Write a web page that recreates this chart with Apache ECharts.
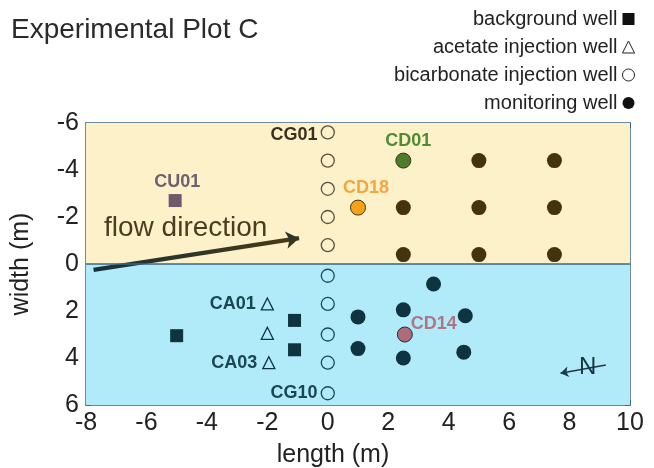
<!DOCTYPE html>
<html>
<head>
<meta charset="utf-8">
<script src="https://cdn.jsdelivr.net/npm/echarts@6/dist/echarts.min.js"></script>
<style>html,body{margin:0;padding:0;background:#fff;}#c{width:654px;height:468px;}</style>
</head>
<body>
<div id="c"></div>
<script>
// ---- data (length m, width m) ----
const backgroundWells = [[-5.05, -2.7], [-1.1, 2.4], [-1.1, 3.65], [-5.0, 3.05]];
const backgroundNames = ['CU01', '', '', ''];
const acetateWells = [[-2.0, 1.7], [-2.0, 2.95], [-1.95, 4.2]];
const acetateNames = ['CA01', '', 'CA03'];
const bicarbonateY = [-5.6, -4.4, -3.2, -2.0, -0.8, 0.5, 1.7, 3.0, 4.2, 5.5];
const bicarbonateX = [0, 0, 0, 0, 0, 0, 0, 0, 0, 0];
const bicarbonateNames = ['CG01', '', '', '', '', '', '', '', '', 'CG10'];
const monitoringWells = [
  [2.5, -4.4], [5.0, -4.4], [7.5, -4.4],
  [1.0, -2.4], [2.5, -2.4], [5.0, -2.4], [7.5, -2.4],
  [2.5, -0.4], [5.0, -0.4], [7.5, -0.4],
  [3.5, 0.85], [2.5, 1.95], [1.0, 2.25], [4.55, 2.2],
  [2.55, 3.0], [1.0, 3.6], [2.5, 4.0], [4.5, 3.75]
];
const monitoringNames = ['CD01', '', '', 'CD18', '', '', '', '', '', '', '', '', '', '', 'CD14', '', '', ''];
const flowArrow = [[-7.75, 0.25], [-0.95, -1.1]];
const flowTextAt = [-4.7, -1.5];
const northArrow = [[9.2, 4.3], [7.7, 4.65]];
const northTextAt = [8.6, 4.4];
const xRange = [-8, 10];
const yRange = [-6, 6];

// ---- styles ----
const FONT = 'Liberation Sans';
const TOP_BG = '#fdf1c9', BOT_BG = '#b1ebf9';
const TOP_DARK = '#45320f', BOT_DARK = '#0d3440';
const AXIS_C = '#3d6680';
const special = {
  CD01: {fill: '#4c7c2c', label: '#4f8a35', pos: 'top', offset: [5, 0]},
  CD18: {fill: '#f5a21a', label: '#f5a640', pos: 'top', offset: [8, 0]},
  CD14: {fill: '#b06a78', label: '#b07585', pos: 'right', offset: [-5, -10]},
  CU01: {fill: '#6f5a6c', label: '#6c6070', pos: 'top', offset: [2, 0]}
};
function darkFor(y) { return y < 0 ? TOP_DARK : BOT_DARK; }
function labelFor(name, y, fallbackPos, fallbackOffset) {
  if (!name) return {show: false};
  const s = special[name];
  return {
    show: true, formatter: name,
    position: s ? s.pos : fallbackPos,
    offset: s ? s.offset : (fallbackOffset || [0, 0]),
    distance: 3,
    color: s ? s.label : (y < 0 ? '#3a3020' : '#1a4654'),
    fontFamily: FONT, fontWeight: 'bold', fontSize: 18
  };
}

const bgData = backgroundWells.map((p, i) => ({
  value: p,
  itemStyle: {color: (special[backgroundNames[i]] || {}).fill || darkFor(p[1])},
  label: labelFor(backgroundNames[i], p[1], 'top')
}));
const acData = acetateWells.map((p, i) => ({
  value: p,
  itemStyle: {color: 'rgba(0,0,0,0)', borderColor: darkFor(p[1]), borderWidth: 1.3},
  label: labelFor(acetateNames[i], p[1], 'left', [-2, 0])
}));
const bcData = bicarbonateY.map((y, i) => ({
  value: [bicarbonateX[i], y],
  itemStyle: {color: 'rgba(0,0,0,0)', borderColor: y < 0 ? '#5a5040' : '#1a4a58', borderWidth: 1.3},
  label: labelFor(bicarbonateNames[i], y, 'left', [0, y < 0 ? 3 : 0])
}));
const mwData = monitoringWells.map((p, i) => {
  const s = special[monitoringNames[i]];
  return {
    value: p,
    itemStyle: {color: s ? s.fill : darkFor(p[1]), borderColor: darkFor(p[1]), borderWidth: s ? 1 : 0},
    label: labelFor(monitoringNames[i], p[1], 'top')
  };
});

const chart = echarts.init(document.getElementById('c'), null, {renderer: 'canvas'});
const axisCommon = {
  axisLine: {show: true, onZero: false, lineStyle: {color: AXIS_C, width: 1.5}},
  axisTick: {show: true, inside: true, length: 5, lineStyle: {color: AXIS_C}},
  splitLine: {show: false}
};
chart.setOption({
  animation: false,
  textStyle: {fontFamily: FONT},
  title: {
    text: 'Experimental Plot C', left: 6, top: 11,
    textStyle: {fontFamily: FONT, fontSize: 28, fontWeight: 'normal', color: '#2a2a2a'}
  },
  legend: {
    orient: 'vertical', right: 14, top: 4, align: 'right',
    itemWidth: 12, itemHeight: 12, itemGap: 8,
    textStyle: {fontFamily: FONT, fontSize: 20, color: '#222'},
    data: [
      {name: 'background well', icon: 'rect', itemStyle: {color: '#111', borderWidth: 0}},
      {name: 'acetate injection well', icon: 'triangle', itemStyle: {color: '#fff', borderColor: '#222', borderWidth: 1}},
      {name: 'bicarbonate injection well', icon: 'circle', itemStyle: {color: '#fff', borderColor: '#222', borderWidth: 1}},
      {name: 'monitoring well', icon: 'circle', itemStyle: {color: '#111', borderWidth: 0}}
    ]
  },
  grid: {left: 86, right: 24, top: 123, bottom: 63, containLabel: false, outerBoundsMode: 'none'},
  xAxis: [
    Object.assign({
      type: 'value', min: xRange[0], max: xRange[1], interval: 2,
      name: 'length (m)', nameLocation: 'middle', nameGap: 38,
      nameTextStyle: {fontFamily: FONT, fontSize: 25, color: '#222', padding: [0, 50, 0, 0]},
      axisLabel: {fontFamily: FONT, fontSize: 25, color: '#222', margin: 6}
    }, axisCommon),
    Object.assign({
      type: 'value', min: xRange[0], max: xRange[1], interval: 2, position: 'top',
      axisLabel: {show: false}
    }, axisCommon)
  ],
  yAxis: [
    Object.assign({
      type: 'value', min: yRange[0], max: yRange[1], interval: 2, inverse: true,
      name: 'width (m)', nameLocation: 'middle', nameGap: 52,
      nameTextStyle: {fontFamily: FONT, fontSize: 25, color: '#222'},
      axisLabel: {fontFamily: FONT, fontSize: 25, color: '#222', margin: 7}
    }, axisCommon),
    Object.assign({
      type: 'value', min: yRange[0], max: yRange[1], interval: 2, inverse: true, position: 'right',
      axisLabel: {show: false}
    }, axisCommon)
  ],
  series: [
    {
      type: 'scatter', name: 'zones', data: [], silent: true, z: 0,
      markArea: {
        silent: true,
        data: [
          [{yAxis: yRange[0], itemStyle: {color: TOP_BG}}, {yAxis: 0}],
          [{yAxis: 0, itemStyle: {color: BOT_BG}}, {yAxis: yRange[1]}]
        ]
      },
      markLine: {
        silent: true, symbol: 'none', label: {show: false},
        lineStyle: {color: AXIS_C, width: 1.5, type: 'solid'},
        data: [{yAxis: 0}]
      }
    },
    {
      type: 'lines', coordinateSystem: 'cartesian2d', z: 3, silent: true,
      symbol: ['none', 'arrow'], symbolSize: 13,
      lineStyle: {
        width: 4.5, opacity: 1,
        color: new echarts.graphic.LinearGradient(0, 0, 1, 0, [
          {offset: 0, color: '#16323e'}, {offset: 1, color: '#4a3a12'}
        ])
      },
      data: [{coords: flowArrow}]
    },
    {
      type: 'lines', coordinateSystem: 'cartesian2d', z: 3, silent: true,
      symbol: ['none', 'arrow'], symbolSize: 8,
      lineStyle: {width: 1.6, color: '#1a3a44', opacity: 1},
      data: [{coords: northArrow}]
    },
    {
      type: 'scatter', silent: true, symbolSize: 0, z: 4, itemStyle: {opacity: 1},
      data: [
        {value: flowTextAt, label: {show: true, position: 'inside', formatter: 'flow direction',
          fontFamily: FONT, fontSize: 28, color: '#4a3c20'}},
        {value: northTextAt, label: {show: true, position: 'inside', formatter: 'N',
          fontFamily: FONT, fontSize: 24, fontWeight: 'normal', color: '#163640'}}
      ]
    },
    {name: 'background well', type: 'scatter', symbol: 'rect', symbolSize: 13, z: 5,
      itemStyle: {opacity: 1}, data: bgData},
    {name: 'acetate injection well', type: 'scatter', symbol: 'triangle', symbolSize: 12, z: 5,
      itemStyle: {opacity: 1}, data: acData},
    {name: 'bicarbonate injection well', type: 'scatter', symbol: 'circle', symbolSize: 13, z: 5,
      itemStyle: {opacity: 1}, data: bcData},
    {name: 'monitoring well', type: 'scatter', symbol: 'circle', symbolSize: 15, z: 5,
      itemStyle: {opacity: 1}, data: mwData}
  ]
});
</script>
</body>
</html>
